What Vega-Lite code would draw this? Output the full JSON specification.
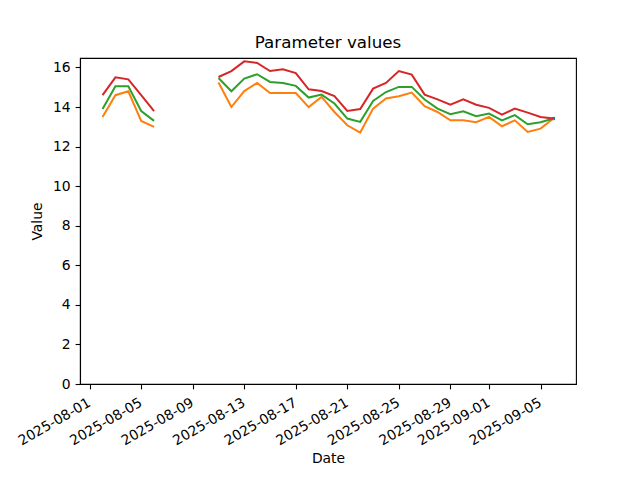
{
  "$schema": "https://vega.github.io/schema/vega-lite/v6.json",
  "width": 496,
  "height": 326,
  "autosize": {"type": "none"},
  "padding": {"left": 80, "top": 58, "right": 64, "bottom": 96},
  "background": "white",
  "title": {"text": "Parameter values"},
  "data": {
    "values": [
      {"date": "2025-08-02", "orange": 13.5, "green": 13.9, "red": 14.6},
      {"date": "2025-08-03", "orange": 14.6, "green": 15.05, "red": 15.5},
      {"date": "2025-08-04", "orange": 14.8, "green": 15.05, "red": 15.4},
      {"date": "2025-08-05", "orange": 13.3, "green": 13.8, "red": 14.6},
      {"date": "2025-08-06", "orange": 13.0, "green": 13.3, "red": 13.8},
      {"date": "2025-08-08", "orange": null, "green": null, "red": null},
      {"date": "2025-08-11", "orange": 15.24, "green": 15.47, "red": 15.52},
      {"date": "2025-08-12", "orange": 14.0, "green": 14.8, "red": 15.82},
      {"date": "2025-08-13", "orange": 14.81, "green": 15.44, "red": 16.31},
      {"date": "2025-08-14", "orange": 15.22, "green": 15.66, "red": 16.23},
      {"date": "2025-08-15", "orange": 14.71, "green": 15.27, "red": 15.82},
      {"date": "2025-08-16", "orange": 14.71, "green": 15.22, "red": 15.91},
      {"date": "2025-08-17", "orange": 14.71, "green": 15.07, "red": 15.72},
      {"date": "2025-08-18", "orange": 14.0, "green": 14.48, "red": 14.9},
      {"date": "2025-08-19", "orange": 14.51, "green": 14.63, "red": 14.81},
      {"date": "2025-08-20", "orange": 13.75, "green": 14.18, "red": 14.55},
      {"date": "2025-08-21", "orange": 13.08, "green": 13.42, "red": 13.8},
      {"date": "2025-08-22", "orange": 12.71, "green": 13.25, "red": 13.9},
      {"date": "2025-08-23", "orange": 13.92, "green": 14.31, "red": 14.93},
      {"date": "2025-08-24", "orange": 14.43, "green": 14.76, "red": 15.22},
      {"date": "2025-08-25", "orange": 14.55, "green": 15.02, "red": 15.82},
      {"date": "2025-08-26", "orange": 14.73, "green": 15.02, "red": 15.64},
      {"date": "2025-08-27", "orange": 14.04, "green": 14.38, "red": 14.63},
      {"date": "2025-08-28", "orange": 13.75, "green": 13.92, "red": 14.39},
      {"date": "2025-08-29", "orange": 13.33, "green": 13.64, "red": 14.12},
      {"date": "2025-08-30", "orange": 13.33, "green": 13.79, "red": 14.39},
      {"date": "2025-08-31", "orange": 13.23, "green": 13.54, "red": 14.12},
      {"date": "2025-09-01", "orange": 13.5, "green": 13.67, "red": 13.96},
      {"date": "2025-09-02", "orange": 13.03, "green": 13.33, "red": 13.62},
      {"date": "2025-09-03", "orange": 13.33, "green": 13.59, "red": 13.92},
      {"date": "2025-09-04", "orange": 12.74, "green": 13.13, "red": 13.72},
      {"date": "2025-09-05", "orange": 12.91, "green": 13.23, "red": 13.5},
      {"date": "2025-09-06", "orange": 13.42, "green": 13.42, "red": 13.42, "blue": 13.42}
    ]
  },
  "encoding": {
    "x": {
      "field": "date",
      "type": "temporal",
      "title": "Date",
      "scale": {
        "type": "utc",
        "domain": [
          {"year": 2025, "month": 7, "date": 31, "hours": 6, "utc": true},
          {"year": 2025, "month": 9, "date": 7, "hours": 18, "utc": true}
        ]
      },
      "axis": {
        "values": [
          {"year": 2025, "month": 8, "date": 1, "utc": true},
          {"year": 2025, "month": 8, "date": 5, "utc": true},
          {"year": 2025, "month": 8, "date": 9, "utc": true},
          {"year": 2025, "month": 8, "date": 13, "utc": true},
          {"year": 2025, "month": 8, "date": 17, "utc": true},
          {"year": 2025, "month": 8, "date": 21, "utc": true},
          {"year": 2025, "month": 8, "date": 25, "utc": true},
          {"year": 2025, "month": 8, "date": 29, "utc": true},
          {"year": 2025, "month": 9, "date": 1, "utc": true},
          {"year": 2025, "month": 9, "date": 5, "utc": true}
        ],
        "format": "%Y-%m-%d",
        "labelAngle": -30,
        "labelAlign": "right",
        "labelBaseline": "top",
        "labelOffset": -4,
        "labelPadding": 6.5,
        "titlePadding": 4
      }
    }
  },
  "layer": [
    {
      "mark": {"type": "point", "shape": "square", "filled": true, "size": 10, "color": "#1f77b4", "opacity": 1},
      "encoding": {"y": {"field": "blue", "type": "quantitative"}}
    },
    {
      "mark": {"type": "line", "color": "#ff7f0e", "strokeWidth": 2},
      "encoding": {
        "y": {
          "field": "orange",
          "type": "quantitative",
          "title": "Value",
          "scale": {"domain": [0, 16.48], "nice": false, "zero": true},
          "axis": {"values": [0, 2, 4, 6, 8, 10, 12, 14, 16], "titlePadding": 8}
        }
      }
    },
    {
      "mark": {"type": "line", "color": "#2ca02c", "strokeWidth": 2},
      "encoding": {"y": {"field": "green", "type": "quantitative"}}
    },
    {
      "mark": {"type": "line", "color": "#d62728", "strokeWidth": 2},
      "encoding": {"y": {"field": "red", "type": "quantitative"}}
    }
  ],
  "resolve": {"scale": {"y": "shared"}},
  "config": {
    "font": "DejaVu Sans",
    "view": {"stroke": "#000", "strokeWidth": 1.1},
    "axis": {
      "domainColor": "#000",
      "domainWidth": 1.1,
      "tickColor": "#000",
      "tickWidth": 1.1,
      "tickSize": 4.9,
      "labelFont": "DejaVu Sans",
      "labelFontSize": 13.9,
      "labelColor": "#000",
      "labelPadding": 4.9,
      "labelFlush": false,
      "labelOverlap": false,
      "titleFont": "DejaVu Sans",
      "titleFontSize": 13.9,
      "titleFontWeight": "normal",
      "titleColor": "#000",
      "grid": false
    },
    "title": {"font": "DejaVu Sans", "fontSize": 16.7, "fontWeight": "normal", "color": "#000", "offset": 6}
  }
}
